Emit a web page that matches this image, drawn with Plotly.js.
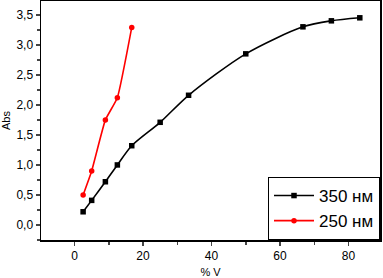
<!DOCTYPE html>
<html>
<head>
<meta charset="utf-8">
<script src="https://cdn.plot.ly/plotly-3.0.1.min.js"></script>
<style>html,body{margin:0;padding:0;background:#fff;}#chart{width:383px;height:278px;}</style>
</head>
<body>
<div id="chart"></div>
<script>
const x350 = [2.5, 5, 9, 12.5, 16.7, 25, 33.3, 50, 66.7, 75, 83.3];
const y350 = [0.22, 0.41, 0.72, 1.0, 1.32, 1.71, 2.16, 2.85, 3.3, 3.4, 3.45];
const x250 = [2.5, 5, 9, 12.5, 16.7];
const y250 = [0.5, 0.9, 1.75, 2.12, 3.29];
const name350 = '350 нм';
const name250 = '250 нм';

const traces = [
  {x: x350, y: y350, name: name350, type: 'scatter', mode: 'lines+markers',
   line: {color: '#000000', width: 1.6, shape: 'spline', smoothing: 0.8},
   marker: {symbol: 'square', size: 5.5, color: '#000000'}},
  {x: x250, y: y250, name: name250, type: 'scatter', mode: 'lines+markers',
   line: {color: '#ff0000', width: 1.6, shape: 'spline', smoothing: 0.4},
   marker: {symbol: 'circle', size: 5.5, color: '#ff0000'}}
];

const layout = {
  width: 383, height: 278,
  margin: {l: 41, r: 3, t: 1, b: 38},
  paper_bgcolor: '#fff', plot_bgcolor: '#fff',
  separators: ', ',
  font: {family: 'Liberation Sans, Arial, sans-serif', size: 12, color: '#000'},
  showlegend: true,
  legend: {x: 1, xanchor: 'right', y: 0, yanchor: 'bottom',
           bordercolor: '#000', borderwidth: 1, bgcolor: '#fff',
           font: {size: 17, color: '#000'}, tracegroupgap: 0, itemwidth: 40},
  xaxis: {range: [-9.8, 89.2], dtick: 20, tick0: 0, ticks: 'outside', ticklen: 4, tickwidth: 1.5,
          showgrid: false, zeroline: false, showline: true, linewidth: 1.5, linecolor: '#000', mirror: true,
          minor: {ticks: 'outside', ticklen: 3, dtick: 10, tickwidth: 1.5, showgrid: false},
          title: {text: '% V', font: {size: 11}, standoff: 6},
          tickfont: {size: 12}},
  yaxis: {range: [-0.25, 3.73], dtick: 0.5, tick0: 0, tickformat: '.1f', ticks: 'outside', ticklen: 4, tickwidth: 1.5,
          showgrid: false, zeroline: false, showline: true, linewidth: 1.5, linecolor: '#000', mirror: true,
          minor: {ticks: 'outside', ticklen: 3, dtick: 0.25, tickwidth: 1.5, showgrid: false},
          title: {text: 'Abs', font: {size: 11}, standoff: 6},
          tickfont: {size: 12}}
};

Plotly.newPlot('chart', traces, layout, {staticPlot: true, displayModeBar: false});
</script>
</body>
</html>
